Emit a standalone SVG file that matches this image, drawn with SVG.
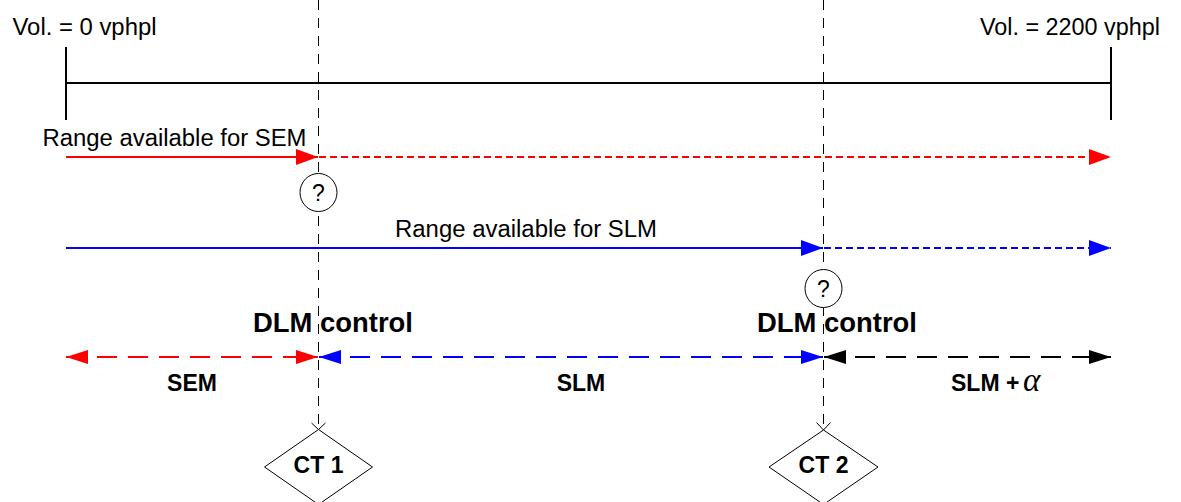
<svg xmlns="http://www.w3.org/2000/svg" width="1181" height="502" viewBox="0 0 1181 502">
<defs>
<style>
.reg{font-family:"Liberation Sans",Arial,sans-serif;font-size:23px;fill:#000}
.bold{font-family:"Liberation Sans",Arial,sans-serif;font-weight:bold;fill:#000}
.guide{stroke:#000;stroke-width:1;stroke-dasharray:10 8;fill:none}
.axis{stroke:#000;stroke-width:2;fill:none}
.node{fill:#fff;stroke:#000;stroke-width:1}
</style>
<marker id="aRed" markerUnits="userSpaceOnUse" markerWidth="23" markerHeight="17" refX="22" refY="8" orient="auto"><path d="M0,0 L22,8 L0,16 z" fill="#f00"/></marker>
<marker id="aBlue" markerUnits="userSpaceOnUse" markerWidth="23" markerHeight="17" refX="22" refY="8" orient="auto"><path d="M0,0 L22,8 L0,16 z" fill="#00f"/></marker>
<marker id="dRed" markerUnits="userSpaceOnUse" markerWidth="23" markerHeight="15" refX="22" refY="7" orient="auto-start-reverse"><path d="M0,0 L22,7 L0,14 z" fill="#f00"/></marker>
<marker id="dBlue" markerUnits="userSpaceOnUse" markerWidth="23" markerHeight="15" refX="22" refY="7" orient="auto-start-reverse"><path d="M0,0 L22,7 L0,14 z" fill="#00f"/></marker>
<marker id="dBlack" markerUnits="userSpaceOnUse" markerWidth="23" markerHeight="15" refX="22" refY="7" orient="auto-start-reverse"><path d="M0,0 L22,7 L0,14 z" fill="#000"/></marker>
</defs>
<rect width="1181" height="502" fill="#fff"/>

<g id="labels">
<text class="reg" x="12.5" y="35" textLength="144" lengthAdjust="spacingAndGlyphs">Vol. = 0 vphpl</text>
<text class="reg" x="980" y="35" textLength="180" lengthAdjust="spacingAndGlyphs">Vol. = 2200 vphpl</text>
<text class="reg" x="42.5" y="146" textLength="264" lengthAdjust="spacingAndGlyphs">Range available for SEM</text>
<text class="reg" x="395" y="237" textLength="262" lengthAdjust="spacingAndGlyphs">Range available for SLM</text>
<text class="bold" x="253" y="332" font-size="27.5" textLength="160" lengthAdjust="spacingAndGlyphs">DLM control</text>
<text class="bold" x="757" y="332" font-size="27.5" textLength="160" lengthAdjust="spacingAndGlyphs">DLM control</text>
<text class="bold" x="192" y="391" font-size="23" text-anchor="middle">SEM</text>
<text class="bold" x="581" y="391" font-size="23" text-anchor="middle">SLM</text>
<text class="bold" x="951" y="391" font-size="23">SLM +</text>
<text x="1023" y="391" font-family="'Liberation Serif','Times New Roman',serif" font-style="italic" font-size="33" fill="#000">α</text>
</g>

<g id="connectors">
<line class="axis" x1="66" y1="83" x2="1111" y2="83"/>
<line class="axis" x1="66" y1="47" x2="66" y2="120"/>
<line class="axis" x1="1111" y1="47" x2="1111" y2="120"/>
<line class="guide" x1="318.5" y1="0" x2="318.5" y2="429"/>
<line class="guide" x1="823.5" y1="0" x2="823.5" y2="429"/>
<polyline points="311.5,423 318.5,429.5 325.5,423" fill="none" stroke="#000" stroke-width="1"/>
<polyline points="816.5,422.5 823.5,430 830.5,422.5" fill="none" stroke="#000" stroke-width="1"/>
<line x1="66" y1="157" x2="318" y2="157" stroke="#f00" stroke-width="2" marker-end="url(#aRed)"/>
<line x1="319" y1="157" x2="1111" y2="157" stroke="#f00" stroke-width="2" stroke-dasharray="7 4" marker-end="url(#aRed)"/>
<line x1="66" y1="248" x2="823" y2="248" stroke="#00f" stroke-width="2" marker-end="url(#aBlue)"/>
<line x1="824" y1="248" x2="1111" y2="248" stroke="#00f" stroke-width="2" stroke-dasharray="7 4" marker-end="url(#aBlue)"/>
<line x1="66" y1="357" x2="318" y2="357" stroke="#f00" stroke-width="2" stroke-dasharray="20 11" marker-start="url(#dRed)" marker-end="url(#dRed)"/>
<line x1="319" y1="357" x2="823" y2="357" stroke="#00f" stroke-width="2" stroke-dasharray="20 11" marker-start="url(#dBlue)" marker-end="url(#dBlue)"/>
<line x1="824" y1="357" x2="1111" y2="357" stroke="#000" stroke-width="2" stroke-dasharray="20 11" marker-start="url(#dBlack)" marker-end="url(#dBlack)"/>
</g>

<g id="q1">
<ellipse class="node" cx="318.5" cy="192.5" rx="18.5" ry="19"/>
<text class="reg" x="318.5" y="201" font-size="24" text-anchor="middle">?</text>
</g>
<g id="q2">
<ellipse class="node" cx="823.5" cy="288.5" rx="18.5" ry="19"/>
<text class="reg" x="823.5" y="297" font-size="24" text-anchor="middle">?</text>
</g>
<g id="ct1">
<polygon class="node" points="318.5,429.5 372.5,467 318.5,504.5 264.5,467"/>
<text class="bold" x="318.5" y="473" font-size="23" text-anchor="middle">CT 1</text>
</g>
<g id="ct2">
<polygon class="node" points="823.5,430 878,467 823.5,504.5 769,467"/>
<text class="bold" x="823.5" y="473" font-size="23" text-anchor="middle">CT 2</text>
</g>
</svg>
